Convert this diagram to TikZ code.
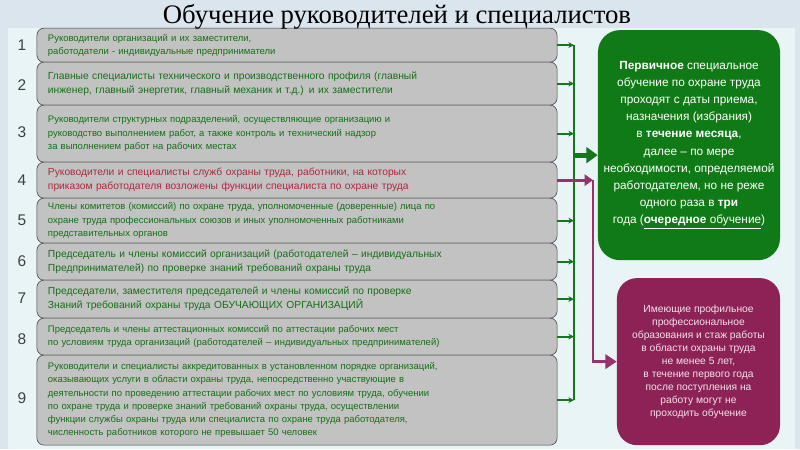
\documentclass[tikz,border=0pt]{standalone}
\usepackage{fontspec}
\setmainfont{Liberation Serif}
\newfontfamily\sansf{Liberation Sans}
\usetikzlibrary{arrows.meta}
\definecolor{bggray}{RGB}{219,229,238}
\definecolor{panel}{RGB}{232,244,245}
\definecolor{boxgray}{RGB}{194,194,194}
\definecolor{txtgreen}{RGB}{20,112,22}
\definecolor{txtred}{RGB}{168,42,62}
\definecolor{busgreen}{RGB}{22,118,30}
\definecolor{primgreen}{RGB}{16,122,22}
\definecolor{profpurple}{RGB}{140,34,86}
\definecolor{linepurple}{RGB}{152,50,106}
\begin{document}
\begin{tikzpicture}[x=0.025cm,y=-0.025cm,>=Stealth]
  \tikzstyle{grp}=[draw=black!75,fill=boxgray,rounded corners=5pt,inner xsep=0.275cm,inner ysep=0pt,text width=12.45cm,align=left,font=\sansf\fontsize{6.75}{9.4}\selectfont,text=txtgreen]
  \tikzstyle{wide}=[font=\sansf\fontsize{7.3}{10}\selectfont]
  \tikzstyle{num}=[font=\sansf\fontsize{11}{13}\selectfont,text=black!75]
  \tikzstyle{feed}=[-{Stealth[length=4pt,width=4pt]},busgreen,line width=1.4pt]
  \def\bus{574}   % x of the green collecting line
  \def\bx{297}    % centre x of the left boxes
  % background
  \fill[bggray] (0,0) rectangle (800,449);
  \fill[panel] (8,28) rectangle (795,449);
  % numbered boxes
  \node[grp,minimum height=0.85cm] (g1) at (\bx,45) {Руководители организаций и их заместители,\\работодатели - индивидуальные предприниматели};
  \node[grp,wide,minimum height=1.075cm] (g2) at (\bx,83.5) {Главные специалисты технического и производственного профиля (главный\\ инженер, главный энергетик, главный механик и т.д.) и их заместители};
  \node[grp,minimum height=1.425cm] (g3) at (\bx,133.5) {Руководители структурных подразделений, осуществляющие организацию и\\руководство выполнением работ, а также контроль и технический надзор\\за выполнением работ на рабочих местах};
  \node[grp,wide,text=txtred,minimum height=0.9cm] (g4) at (\bx,180) {Руководители и специалисты служб охраны труда, работники, на которых\\приказом работодателя возложены функции специалиста по охране труда};
  \node[grp,minimum height=1.125cm] (g5) at (\bx,220.5) {Члены комитетов (комиссий) по охране труда, уполномоченные (доверенные) лица по\\охране труда профессиональных союзов и иных уполномоченных работниками\\представительных органов};
  \node[grp,wide,minimum height=0.925cm] (g6) at (\bx,261.5) {Председатель и члены комиссий организаций (работодателей – индивидуальных\\Предпринимателей) по проверке знаний требований охраны труда};
  \node[grp,wide,minimum height=0.95cm] (g7) at (\bx,299) {Председатели, заместителя председателей и члены комиссий по проверке\\Знаний требований охраны труда ОБУЧАЮЩИХ ОРГАНИЗАЦИЙ};
  \node[grp,minimum height=0.925cm] (g8) at (\bx,336.5) {Председатель и члены аттестационных комиссий по аттестации рабочих мест\\по условиям труда организаций (работодателей – индивидуальных предпринимателей)};
  \node[grp,minimum height=2.25cm] (g9) at (\bx,400) {Руководители и специалисты аккредитованных в установленном порядке организаций,\\оказывающих услуги в области охраны труда, непосредственно участвующие в\\деятельности по проведению аттестации рабочих мест по условиям труда, обучении\\по охране труда и проверке знаний требований охраны труда, осуществлении\\функции службы охраны труда или специалиста по охране труда работодателя,\\численность работников которого не превышает 50 человек};
  % numbers
  \node[num] (n1) at (22,45) {1};
  \node[num] (n2) at (22,85) {2};
  \node[num] (n3) at (22,132) {3};
  \node[num] (n4) at (22,180) {4};
  \node[num] (n5) at (22,220) {5};
  \node[num] (n6) at (22,261) {6};
  \node[num] (n7) at (22,298) {7};
  \node[num] (n8) at (22,339) {8};
  \node[num] (n9) at (22,398) {9};
  % right boxes
  \node[fill=primgreen,rounded corners=0.55cm,minimum width=4.55cm,minimum height=5.75cm,text=white,align=center,font=\sansf\fontsize{8.4}{12.2}\selectfont] (prim) at (689,145)
    {\textbf{Первичное} специальное\\обучение по охране труда\\проходят с даты приема,\\назначения (избрания)\\в \textbf{течение месяца},\\далее – по мере\\необходимости, определяемой\\работодателем, но не реже\\одного раза в \textbf{три}\\года (\underline{\textbf{очередное} обучение})};
  \node[fill=profpurple,rounded corners=0.5cm,minimum width=4.075cm,minimum height=4.175cm,text={rgb,255:red,245;green,225;blue,235},align=center,font=\sansf\fontsize{7.3}{9.2}\selectfont] (prof) at (698.5,361.5)
    {Имеющие профильное\\профессиональное\\образования и стаж работы\\в области охраны труда\\не менее 5 лет,\\в течение первого года\\после поступления на\\работу могут не\\проходить обучение};
  % green collecting line
  \coordinate (top) at (\bus,45);
  \coordinate (bot) at (\bus,400);
  \coordinate (bj) at (\bus,155);
  \draw[busgreen,line width=2.1pt] (top) -- (bot);
  \draw[feed] (g1.east) -- (g1.east -| top);
  \draw[feed] (g2.east) -- (g2.east -| top);
  \draw[feed] (g3.east) -- (g3.east -| top);
  \draw[feed] (g5.east) -- (g5.east -| top);
  \draw[feed] (g6.east) -- (g6.east -| top);
  \draw[feed] (g7.east) -- (g7.east -| top);
  \draw[feed] (g8.east) -- (g8.east -| top);
  \draw[feed] (g9.east) -- (g9.east -| top);
  \draw[-{Triangle[length=8pt,width=11pt]},busgreen,line width=3.4pt] (bj) -- (bj -| prim.west);
  % purple branch from box 4
  \coordinate (pj) at (593,180);
  \draw[-{Triangle[length=6pt,width=8pt]},linepurple,line width=2pt] (g4.east) -- (pj);
  \draw[-{Triangle[length=8pt,width=10pt]},linepurple,line width=2pt] (pj) |- (prof.west);
  % title
  \node[font=\fontsize{19}{23}\selectfont] (title) at (397,17) {Обучение руководителей и специалистов};
\end{tikzpicture}
\end{document}
